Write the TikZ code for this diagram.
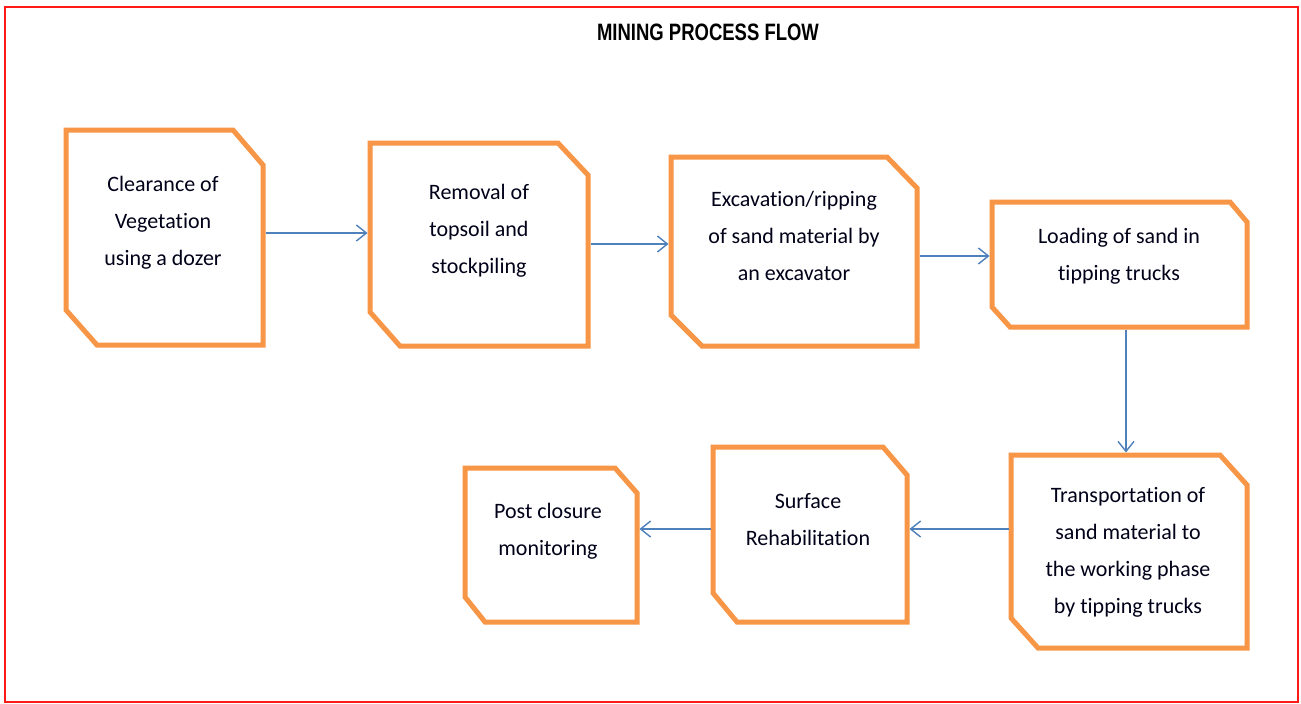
\documentclass[tikz,border=0pt]{standalone}
\usepackage{fontspec}
\setmainfont{Carlito}[Ligatures=NoCommon]
\newfontfamily\titlefont[FakeStretch=0.78]{Liberation Sans}
\usetikzlibrary{arrows.meta,calc}
\definecolor{boxorange}{HTML}{F79646}
\definecolor{flowblue}{HTML}{4F81BD}
\definecolor{frame}{HTML}{FF1A1A}
\tikzset{
  boxarea/.style={rectangle, draw=none, inner sep=0pt, outer sep=0pt},
  boxline/.style={draw=boxorange, line width=5pt, line join=miter},
  boxtext/.style={align=center, inner sep=0pt, font=\fontsize{22}{37}\selectfont, text=black!90!blue},
  flow/.style={draw=flowblue, line width=1.4pt, -{Straight Barb[length=10pt,width=16pt,line width=1.4pt]}, shorten >=2.5pt, shorten <=2.5pt},
  titletext/.style={font=\titlefont\bfseries\fontsize{23.7}{28}\selectfont, inner sep=0pt}
}
\newcommand{\chambox}[9]{%
  % #1 name, #2 x1, #3 y1, #4 x2, #5 y2, #6 tr dx, #7 tr dy, #8 bl dx, #9 bl dy
  \node[boxarea, minimum width={(#4-#2)*1pt}, minimum height={(#5-#3)*1pt}] (#1) at ({(#2+#4)/2},{(#3+#5)/2}) {};
  \draw[boxline] (#1.north west) -- ([xshift=-#6pt]#1.north east) -- ([yshift=-#7pt]#1.north east)
    -- (#1.south east) -- ([xshift=#8pt]#1.south west) -- ([yshift=#9pt]#1.south west) -- cycle;
}
\begin{document}
\begin{tikzpicture}[x=1pt,y=-1pt]
\useasboundingbox (0,0) rectangle (1301,704);
\fill[white] (0,0) rectangle (1301,704);
\draw[frame, line width=1.6pt] (5,7) rectangle (1298,702);
\node[titletext] (title) at (708,32) {MINING PROCESS FLOW};

\chambox{b1}{66}{130}{263}{345}{30}{35}{31}{35}
\chambox{b2}{370}{143}{588}{346}{30}{32}{30}{34}
\chambox{b3}{671}{157}{917}{346}{30}{31}{31}{31}
\chambox{b4}{992}{202}{1247}{327}{17}{20}{18}{20}
\chambox{b5}{1011}{455}{1247}{648}{27}{30}{27}{30}
\chambox{b6}{713}{447}{907}{622}{24}{28}{24}{29}
\chambox{b7}{465}{468}{637}{622}{22}{25}{20}{25}

\node[boxtext] (t1) at (163,222.5) {Clearance of\\Vegetation\\using a dozer};
\node[boxtext] (t2) at (479,230.5) {Removal of\\topsoil and\\stockpiling};
\node[boxtext] (t3) at (794,236) {Excavation/ripping\\of sand material by\\an excavator};
\node[boxtext] (t4) at (1119,256.5) {Loading of sand in\\tipping trucks};
\node[boxtext] (t5) at (1128,552) {Transportation of\\sand material to\\the working phase\\by tipping trucks};
\node[boxtext] (t6) at (808,519.5) {Surface\\Rehabilitation};
\node[boxtext] (t7) at (548,531) {Post closure\\monitoring};

\coordinate (a1) at ([yshift=4.5pt]b1.east);
\coordinate (a2) at ([yshift=0.5pt]b2.east);
\coordinate (a3) at ([yshift=-4.5pt]b3.east);
\coordinate (a4) at ([xshift=6.5pt]b4.south);
\coordinate (a5) at ([yshift=22.5pt]b5.west);
\coordinate (a6) at ([yshift=5.5pt]b6.west);

\draw[flow] (a1) -- (a1 -| b2.west);
\draw[flow] (a2) -- (a2 -| b3.west);
\draw[flow] (a3) -- (a3 -| b4.west);
\draw[flow] (a4) -- (a4 |- b5.north);
\draw[flow] (a5) -- (a5 -| b6.east);
\draw[flow] (a6) -- (a6 -| b7.east);
\end{tikzpicture}
\end{document}
